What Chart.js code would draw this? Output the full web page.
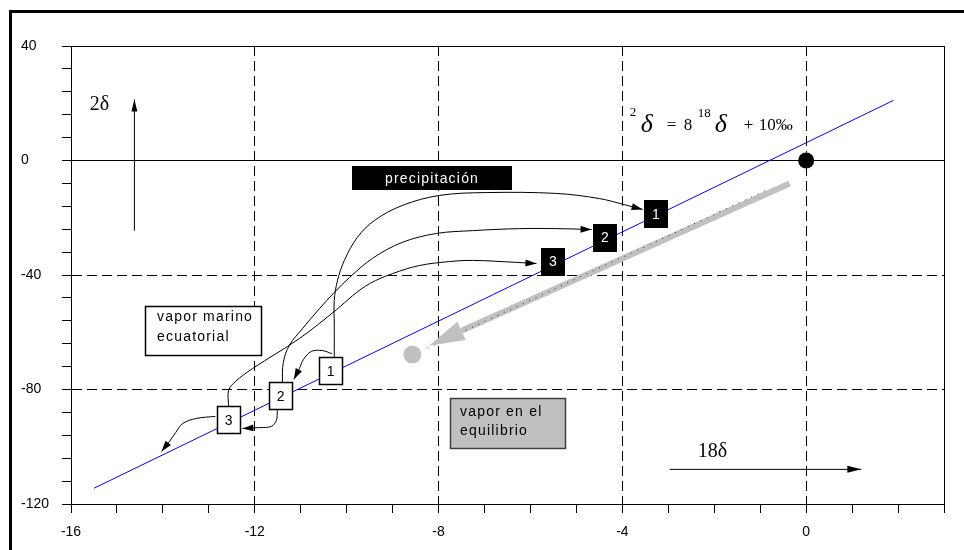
<!DOCTYPE html>
<html>
<head>
<meta charset="utf-8">
<title>2δ frente a 18δ</title>
<script src="https://cdn.jsdelivr.net/npm/chart.js@4.4.1/dist/chart.umd.min.js"></script>
<style>
  html, body { margin: 0; padding: 0; background: #fff; }
  #wrap { position: relative; width: 964px; height: 550px; overflow: hidden; }
  #frame { position: absolute; left: 9px; top: 10px; width: 1200px; height: 800px;
           border-left: 3px solid #000; border-top: 3px solid #000; pointer-events: none; }
  canvas { position: absolute; left: 0; top: 0; }
</style>
</head>
<body>
<div id="wrap">
  <canvas id="chart" width="964" height="550"></canvas>
  <div id="frame"></div>
</div>
<script>
// --- axes ---
const xMin = -16, xMax = 3, xStep = 1;
const yMin = -120, yMax = 40, yStep = 8;
const xLabelled = [-16, -12, -8, -4, 0];
const yLabelled = [-120, -80, -40, 0, 40];
const xDashed = [-12, -8, -4, 0];
const xSolid = [3];
const yDashed = [-80, -40];
const ySolid = [0, 40];

// --- recta meteorica ---
const gmwlX = [-15.5, 1.9];
const gmwlY = [-114.5, 21];

// --- puntos ---
const originX = [0];
const originY = [0];
const eqDotX = [-8.57];
const eqDotY = [-67.8];

// cajas numeradas (precipitacion = negras, vapor = blancas)
const boxLabels = ['1', '2', '3'];
const precipX = [-3.27, -4.38, -5.51];
const precipY = [-18.7, -26.9, -35.3];
const vaporX = [-10.35, -11.44, -12.57];
const vaporY = [-73.7, -82.3, -90.8];

// flechas curvas vapor -> precipitacion
const curveAX = [-10.27, -10.27, -10.27, -10.20, -10.05, -9.77, -9.40, -8.79, -7.98, -6.96, -5.44, -4.50, -3.96, -3.56];
const curveAY = [-68.8, -58.0, -48.9, -41.9, -34.9, -26.9, -21.0, -15.7, -12.2, -11.2, -11.5, -13.3, -15.4, -17.1];
const curveBX = [-11.40, -11.38, -11.25, -10.96, -10.59, -10.27, -9.94, -9.44, -8.79, -8.05, -7.26, -6.24, -5.44, -4.67];
const curveBY = [-77.4, -70.6, -64.6, -58.7, -51.7, -46.1, -40.9, -34.2, -28.6, -25.5, -24.5, -23.8, -23.8, -24.1];
const curveCX = [-12.57, -12.57, -12.42, -12.05, -11.03, -10.22, -9.87, -9.50, -9.00, -8.42, -7.76, -7.26, -6.30, -5.87];
const curveCY = [-85.9, -80.3, -77.2, -72.7, -62.2, -52.1, -47.2, -43.0, -39.5, -36.7, -35.3, -34.9, -35.6, -36.0];
// flechas curvas vapor -> vapor
const curveDX = [-10.32, -10.53, -10.77, -10.94, -11.03, -11.15];
const curveDY = [-67.5, -66.4, -66.7, -69.5, -72.7, -76.5];
const curveEX = [-11.51, -11.53, -11.64, -11.90, -12.27];
const curveEY = [-87.2, -90.8, -92.9, -93.3, -93.6];
const curveFX = [-12.86, -13.27, -13.57, -13.72, -13.86, -14.03];
const curveFY = [-89.4, -90.1, -91.9, -95.0, -98.2, -101.7];

// flecha gris (vapor en el equilibrio)
const grayX = [-0.36, -7.5];
const grayY = [-8.0, -59.5];
const grayTipX = [-8.21];
const grayTipY = [-64.7];
const dottedX = [-0.9, -8.25];
const dottedY = [-10.6, -65.6];

// flechas de los ejes
const arrow2X = [-14.62, -14.62];
const arrow2Y = [-24.5, 21.3];
const arrow18X = [-2.97, 1.2];
const arrow18Y = [-107.9, -107.9];

const pts = (xs, ys) => xs.map((v, i) => ({ x: v, y: ys[i] }));

const curves = [
  { x: curveAX, y: curveAY }, { x: curveBX, y: curveBY }, { x: curveCX, y: curveCY },
  { x: curveDX, y: curveDY }, { x: curveEX, y: curveEY }, { x: curveFX, y: curveFY }
];

function arrowHead(ctx, x0, y0, x1, y1, len, half, color) {
  const a = Math.atan2(y1 - y0, x1 - x0);
  const l = len || Math.hypot(x1 - x0, y1 - y0);
  const bx = x1 - l * Math.cos(a), by = y1 - l * Math.sin(a);
  ctx.fillStyle = color;
  ctx.beginPath();
  ctx.moveTo(x1, y1);
  ctx.lineTo(bx + half * Math.sin(a), by - half * Math.cos(a));
  ctx.lineTo(bx - half * Math.sin(a), by + half * Math.cos(a));
  ctx.closePath();
  ctx.fill();
}

const SANS = '"Liberation Sans", Arial, sans-serif';
const SERIF = '"Liberation Serif", "Times New Roman", serif';

const overlay = {
  id: 'overlay',
  afterDatasetsDraw(chart) {
    const { ctx } = chart;
    const sx = v => chart.scales.x.getPixelForValue(v);
    const sy = v => chart.scales.y.getPixelForValue(v);
    ctx.save();

    // arrowheads
    curves.forEach(c => {
      const n = c.x.length;
      arrowHead(ctx, sx(c.x[n - 2]), sy(c.y[n - 2]), sx(c.x[n - 1]), sy(c.y[n - 1]), 11, 3.5, '#000');
    });
    arrowHead(ctx, sx(arrow2X[0]), sy(arrow2Y[0]), sx(arrow2X[1]), sy(arrow2Y[1]), 12, 3, '#000');
    arrowHead(ctx, sx(arrow18X[0]), sy(arrow18Y[0]), sx(arrow18X[1]), sy(arrow18Y[1]), 14, 3.5, '#000');
    arrowHead(ctx, sx(grayX[1]), sy(grayY[1]), sx(grayTipX[0]), sy(grayTipY[0]), 0, 10, '#c0c0c0');

    // numbered boxes
    const numBox = (cx, cy, t, dark) => {
      const w = 24, h = 28;
      const l = Math.round(cx - w / 2), tp = Math.round(cy - h / 2);
      ctx.fillStyle = dark ? '#000' : '#fff';
      ctx.fillRect(l, tp, w, h);
      if (!dark) {
        ctx.strokeStyle = '#000'; ctx.lineWidth = 1.5;
        ctx.strokeRect(l + 0.5, tp + 0.5, w - 1, h - 1);
      }
      ctx.fillStyle = dark ? '#fff' : '#000';
      ctx.font = '14px ' + SANS;
      ctx.textAlign = 'center'; ctx.textBaseline = 'middle';
      ctx.fillText(t, cx, cy + 1);
    };
    boxLabels.forEach((t, i) => {
      numBox(sx(precipX[i]), sy(precipY[i]), t, true);
      numBox(sx(vaporX[i]), sy(vaporY[i]), t, false);
    });

    // label boxes
    const labelBox = (x0, y0, x1, y1, fill, stroke, color, lines, dx, base, gap, center) => {
      const l = Math.round(sx(x0)), t = Math.round(sy(y0));
      const r = Math.round(sx(x1)), b = Math.round(sy(y1));
      ctx.fillStyle = fill; ctx.fillRect(l, t, r - l, b - t);
      if (stroke) { ctx.strokeStyle = stroke; ctx.lineWidth = 1.5; ctx.strokeRect(l + 0.5, t + 0.5, r - l - 1, b - t - 1); }
      ctx.fillStyle = color;
      ctx.font = '14px ' + SANS;
      ctx.letterSpacing = '1.2px';
      ctx.textBaseline = 'alphabetic';
      ctx.textAlign = center ? 'center' : 'left';
      lines.forEach((s, i) => ctx.fillText(s, center ? (l + r) / 2 : l + dx, t + base + i * gap));
      ctx.letterSpacing = '0px';
    };
    labelBox(-9.885, -1.96, -6.41, -10.35, '#000', null, '#fff', ['precipitación'], 0, 17, 0, true);
    labelBox(-14.39, -51.0, -11.84, -68.4, '#fff', '#000', '#000', ['vapor marino', 'ecuatorial'], 12, 15, 20, false);
    labelBox(-7.75, -83.0, -5.23, -100.9, '#c0c0c0', '#404040', '#000', ['vapor en el', 'equilibrio'], 10, 18, 19, false);

    // axis names
    ctx.fillStyle = '#000';
    ctx.textAlign = 'left'; ctx.textBaseline = 'middle';
    ctx.font = '20px ' + SERIF;
    ctx.fillText('2δ', sx(-15.59), sy(19.4));
    ctx.fillText('18δ', sx(-2.36), sy(-101.6));

    // equation
    const ex = sx(-3.84), ey = sy(10.6);
    ctx.textBaseline = 'alphabetic';
    const parts = [
      ['2', 0, -14, '13px ' + SERIF],
      ['δ', 11, 2, 'italic 26px ' + SERIF],
      ['=', 37, 0, '17px ' + SERIF],
      ['8', 54, 0, '17px ' + SERIF],
      ['18', 68, -13, '13px ' + SERIF],
      ['δ', 85, 2, 'italic 26px ' + SERIF],
      ['+', 114, 0, '17px ' + SERIF],
      ['10‰', 129, 0, '17px ' + SERIF]
    ];
    parts.forEach(([t, dx, dy, f]) => { ctx.font = f; ctx.fillText(t, ex + dx, ey + dy); });

    ctx.restore();
  }
};

const lineSet = (xs, ys, color, width, order, extra) => Object.assign({
  data: pts(xs, ys), showLine: true, borderColor: color, borderWidth: width,
  pointRadius: 0, fill: false, order
}, extra || {});

new Chart(document.getElementById('chart'), {
  type: 'scatter',
  data: {
    datasets: [
      { data: pts(originX, originY), pointRadius: 8, backgroundColor: '#000', borderWidth: 0, order: 0 },
      { data: pts(eqDotX, eqDotY), pointRadius: 9, backgroundColor: '#c0c0c0', borderWidth: 0, order: 1 },
      lineSet(gmwlX, gmwlY, '#0000ff', 1, 2),
      ...curves.map(c => lineSet(c.x, c.y, '#000', 1, 3, { tension: 0.35 })),
      lineSet(arrow2X, arrow2Y, '#000', 1, 3),
      lineSet(arrow18X, arrow18Y, '#000', 1, 3),
      lineSet(dottedX, dottedY, '#333', 1, 4, { borderDash: [1, 6] }),
      lineSet(grayX, grayY, '#c0c0c0', 6, 5)
    ]
  },
  options: {
    responsive: false,
    animation: false,
    layout: { padding: { left: 21, top: 46, right: 20, bottom: 0 } },
    plugins: { legend: { display: false }, tooltip: { enabled: false } },
    scales: {
      x: {
        type: 'linear', min: xMin, max: xMax,
        afterFit: s => { s.height = 46; },
        ticks: {
          stepSize: xStep, autoSkip: false, maxRotation: 0, padding: 11, color: '#000',
          font: { family: SANS, size: 14 },
          callback: v => (xLabelled.includes(v) ? String(v) : '')
        },
        grid: {
          tickLength: 9, tickColor: '#000', lineWidth: 1,
          color: c => (c.tick && (xDashed.includes(c.tick.value) || xSolid.includes(c.tick.value)) ? '#000' : 'rgba(0,0,0,0)')
        },
        border: { color: '#000', width: 1, dash: c => (c.tick && xDashed.includes(c.tick.value) ? [10, 5] : []) }
      },
      y: {
        type: 'linear', min: yMin, max: yMax,
        afterFit: s => { s.width = 50; },
        ticks: {
          stepSize: yStep, autoSkip: false, crossAlign: 'far', color: '#000',
          font: { family: SANS, size: 14 },
          callback: v => (yLabelled.includes(v) ? String(v) : '')
        },
        grid: {
          tickLength: 9, tickColor: '#000', lineWidth: 1,
          color: c => (c.tick && (yDashed.includes(c.tick.value) || ySolid.includes(c.tick.value)) ? '#000' : 'rgba(0,0,0,0)')
        },
        border: { color: '#000', width: 1, dash: c => (c.tick && yDashed.includes(c.tick.value) ? [10, 5] : []) }
      }
    }
  },
  plugins: [overlay]
});
</script>
</body>
</html>
